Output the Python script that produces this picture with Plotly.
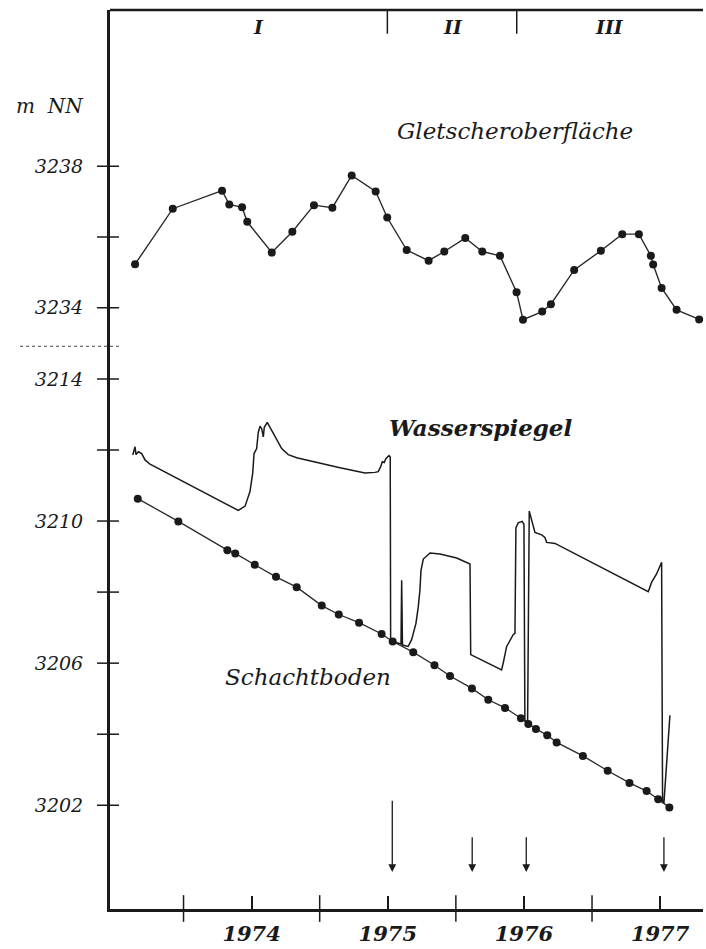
import plotly.graph_objects as go

# ---------------- data ----------------
glacier_years = [1973.644, 1973.921, 1974.283, 1974.336, 1974.430, 1974.468, 1974.648,
                 1974.799, 1974.958, 1975.093, 1975.235, 1975.411, 1975.496, 1975.639,
                 1975.800, 1975.915, 1976.069, 1976.194, 1976.324, 1976.446, 1976.493,
                 1976.634, 1976.698, 1976.869, 1977.065, 1977.222, 1977.344, 1977.432,
                 1977.449, 1977.511, 1977.621, 1977.787]
glacier_elev = [3235.23, 3236.80, 3237.31, 3236.92, 3236.84, 3236.43, 3235.56,
                3236.15, 3236.90, 3236.83, 3237.74, 3237.29, 3236.55, 3235.63,
                3235.33, 3235.59, 3235.97, 3235.59, 3235.47, 3234.44, 3233.66,
                3233.89, 3234.10, 3235.07, 3235.61, 3236.08, 3236.08, 3235.47,
                3235.22, 3234.56, 3233.94, 3233.67]

shaft_years = [1973.664, 1973.962, 1974.322, 1974.380, 1974.523, 1974.679, 1974.831,
               1975.015, 1975.140, 1975.289, 1975.455, 1975.536, 1975.687, 1975.843,
               1975.957, 1976.118, 1976.238, 1976.361, 1976.478, 1976.532, 1976.588,
               1976.671, 1976.740, 1976.933, 1977.115, 1977.275, 1977.401, 1977.486,
               1977.568]
shaft_elev = [3210.63, 3209.99, 3209.18, 3209.09, 3208.77, 3208.43, 3208.14,
              3207.62, 3207.37, 3207.14, 3206.82, 3206.61, 3206.31, 3205.94,
              3205.64, 3205.29, 3204.97, 3204.74, 3204.45, 3204.29, 3204.15,
              3203.97, 3203.77, 3203.39, 3202.97, 3202.63, 3202.40, 3202.17,
              3201.94]

water_years = [1973.627, 1973.644, 1973.651, 1973.668, 1973.693, 1973.717, 1973.754,
               1974.402, 1974.452, 1974.488, 1974.508, 1974.518, 1974.537, 1974.549,
               1974.562, 1974.574, 1974.586, 1974.593, 1974.615, 1974.635, 1974.672,
               1974.721, 1974.769, 1974.831, 1975.149, 1975.333, 1975.406, 1975.430,
               1975.448, 1975.460, 1975.474, 1975.487, 1975.509, 1975.518, 1975.521,
               1975.560, 1975.597, 1975.602, 1975.608, 1975.650, 1975.675, 1975.707,
               1975.724, 1975.736, 1975.744, 1975.761, 1975.810, 1975.883, 1976.006,
               1976.104, 1976.109, 1976.336, 1976.348, 1976.373, 1976.421, 1976.434,
               1976.441, 1976.458, 1976.487, 1976.500, 1976.507, 1976.527, 1976.539,
               1976.557, 1976.581, 1976.630, 1976.654, 1976.667, 1976.728, 1977.413,
               1977.438, 1977.474, 1977.511, 1977.518, 1977.528, 1977.572]
water_elev = [3211.86, 3212.09, 3211.87, 3211.95, 3211.90, 3211.72, 3211.60,
              3210.30, 3210.42, 3210.83, 3211.35, 3211.90, 3212.04, 3212.50,
              3212.67, 3212.60, 3212.37, 3212.64, 3212.78, 3212.64, 3212.37,
              3212.04, 3211.87, 3211.78, 3211.50, 3211.35, 3211.37, 3211.39,
              3211.53, 3211.67, 3211.65, 3211.76, 3211.84, 3211.80, 3206.66,
              3206.58, 3206.54, 3208.33, 3206.51, 3206.47, 3206.66, 3207.12,
              3207.59, 3208.05, 3208.61, 3208.93, 3209.10, 3209.07, 3208.96,
              3208.79, 3206.24, 3205.81, 3206.01, 3206.47, 3206.80, 3206.84,
              3209.81, 3209.95, 3209.99, 3209.91, 3204.37, 3204.37, 3210.28,
              3210.00, 3209.68, 3209.61, 3209.54, 3209.40, 3209.37, 3208.01,
              3208.28, 3208.51, 3208.84, 3202.08, 3202.06, 3204.53]

top_ticks = [3234, 3236, 3238]
top_tick_text = ["3234", "", "3238"]
bottom_ticks = [3202, 3204, 3206, 3208, 3210, 3212, 3214]
bottom_tick_text = ["3202", "", "3206", "", "3210", "", "3214"]

year_bounds = [1974, 1975, 1976, 1977]
year_label_pos = [1974.5, 1975.5, 1976.5, 1977.5]
year_labels = ["1974", "1975", "1976", "1977"]

period_bounds = [1975.497, 1976.447]
period_label_pos = [1974.547, 1975.977, 1977.131]
period_labels = ["I", "II", "III"]

arrow_years = [1975.533, 1976.120, 1976.517, 1977.528]
arrow_top = [3202.17, 3201.14, 3201.14, 3201.14]
arrow_tip = 3200.12

# ---------------- layout helpers (pixel -> paper) ----------------
W, H = 706, 949
ML, MR, MT, MB = 110, 3, 10, 30
PW, PH = W - ML - MR, H - MT - MB


def pxx(p):
    return (p - ML) / PW


def pxy(p):
    return (H - MB - p) / PH


SERIF = "DejaVu Serif, Liberation Serif, serif"
INK = "#1a1a1a"
brk = pxy(350)

fig = go.Figure()

fig.add_trace(go.Scatter(
    x=glacier_years, y=glacier_elev, xaxis="x", yaxis="y",
    mode="lines+markers", line=dict(color="#2a2a2a", width=1.4),
    marker=dict(color=INK, size=8), showlegend=False))

fig.add_trace(go.Scatter(
    x=water_years, y=water_elev, xaxis="x", yaxis="y2",
    mode="lines", line=dict(color=INK, width=1.5), showlegend=False))

fig.add_trace(go.Scatter(
    x=shaft_years, y=shaft_elev, xaxis="x", yaxis="y2",
    mode="lines+markers", line=dict(color="#2a2a2a", width=1.3),
    marker=dict(color=INK, size=8), showlegend=False))

ytickfont = dict(family=SERIF, size=19, color=INK, style="italic")
xtickfont = dict(family=SERIF, size=21, color=INK, style="italic", weight="bold")

fig.update_layout(
    width=W, height=H,
    margin=dict(l=ML, r=MR, t=MT, b=MB),
    paper_bgcolor="white", plot_bgcolor="white",
    xaxis=dict(range=[1973.46, 1977.815], anchor="y2", domain=[0, 1],
               showgrid=False, zeroline=False, showline=True, linewidth=3,
               linecolor=INK, tickvals=year_label_pos, ticktext=year_labels,
               ticks="inside", ticklen=13, tickwidth=1.5, tickcolor=INK,
               tickfont=xtickfont, ticklabelstandoff=4),
    yaxis=dict(domain=[brk, 1], range=[3232.91, 3242.42], anchor="x",
               showgrid=False, zeroline=False, showline=True, linewidth=3,
               linecolor=INK, tickvals=top_ticks, ticktext=top_tick_text,
               ticks="", tickfont=ytickfont, ticklabelstandoff=20),
    yaxis2=dict(domain=[0, brk], range=[3199.08, 3214.92], anchor="x",
                showgrid=False, zeroline=False, showline=True, linewidth=3,
                linecolor=INK, tickvals=bottom_ticks, ticktext=bottom_tick_text,
                ticks="", tickfont=ytickfont, ticklabelstandoff=20),
)

shapes = []
# crossing y-ticks
for v in top_ticks:
    shapes.append(dict(type="line", xref="paper", yref="y", x0=pxx(97), x1=pxx(119),
                       y0=v, y1=v, line=dict(color=INK, width=1.5)))
for v in bottom_ticks:
    shapes.append(dict(type="line", xref="paper", yref="y2", x0=pxx(97), x1=pxx(119),
                       y0=v, y1=v, line=dict(color=INK, width=1.5)))
# long year-boundary ticks on the x axis
for v in year_bounds:
    shapes.append(dict(type="line", xref="x", yref="paper", x0=v, x1=v,
                       y0=pxy(932), y1=pxy(905), line=dict(color=INK, width=1.5)))
# period dividers at the top
for v in period_bounds:
    shapes.append(dict(type="line", xref="x", yref="paper", x0=v, x1=v,
                       y0=pxy(34), y1=1, line=dict(color=INK, width=1.5)))
# top frame line
shapes.append(dict(type="line", xref="paper", yref="paper", x0=0, x1=1, y0=1, y1=1,
                   line=dict(color=INK, width=2.5)))
# break of the y axis
shapes.append(dict(type="line", xref="paper", yref="paper", x0=pxx(20), x1=pxx(122),
                   y0=brk, y1=brk, line=dict(color="#444", width=1, dash="dot")))
fig.update_layout(shapes=shapes)

ann = []
textfont = dict(family=SERIF, color=INK, style="italic")
common = dict(showarrow=False, xanchor="center", yanchor="middle")
ann.append(dict(text="m  NN", xref="paper", yref="paper", x=pxx(50), y=pxy(107),
                font=dict(size=20, **textfont), **common))
ann.append(dict(text="Gletscheroberfläche", xref="paper", yref="paper", x=pxx(515),
                y=pxy(132), font=dict(size=23, **textfont), **common))
ann.append(dict(text="Wasserspiegel", xref="paper", yref="paper", x=pxx(480),
                y=pxy(432), font=dict(size=23, weight="bold", **textfont), **common))
ann.append(dict(text="Schachtboden", xref="paper", yref="paper", x=pxx(308),
                y=pxy(684), font=dict(size=23, **textfont), **common))
for pos, lab in zip(period_label_pos, period_labels):
    ann.append(dict(text=lab, xref="x", yref="paper", x=pos, y=pxy(27),
                    font=dict(size=19, weight="bold", **textfont), **common))
for xv, top in zip(arrow_years, arrow_top):
    ann.append(dict(text="", x=xv, y=arrow_tip, xref="x", yref="y2",
                    ax=xv, ay=top, axref="x", ayref="y2", showarrow=True,
                    arrowhead=2, arrowsize=1.2, arrowwidth=1.3, arrowcolor=INK))
fig.update_layout(annotations=ann)

fig.write_html("out.html")
